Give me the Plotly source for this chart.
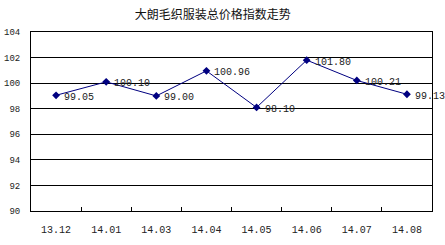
import plotly.graph_objects as go

categories = ["13.12", "14.01", "14.03", "14.04", "14.05", "14.06", "14.07", "14.08"]
values = [99.05, 100.10, 99.00, 100.96, 98.10, 101.80, 100.21, 99.13]
labels = ["99.05", "100.10", "99.00", "100.96", "98.10", "101.80", "100.21", "99.13"]
y_ticks = [90, 92, 94, 96, 98, 100, 102, 104]
title_text = "大朗毛织服装总价格指数走势"

mono = "Liberation Mono, DejaVu Sans Mono, monospace"

fig = go.Figure()
fig.add_trace(go.Scatter(
    x=categories, y=values, mode="lines+markers",
    line=dict(color="#000080", width=1),
    marker=dict(symbol="diamond", size=6, color="#000080"),
    cliponaxis=False,
))

for i, (v, t) in enumerate(zip(values, labels)):
    fig.add_annotation(x=i, y=v, xref="x", yref="y", text=t, showarrow=False,
                       xanchor="left", yanchor="middle", xshift=6, yshift=-2,
                       font=dict(family=mono, size=10, color="#222222"))

fig.update_layout(
    width=445, height=245,
    margin=dict(l=31, r=13, t=32, b=34),
    paper_bgcolor="white", plot_bgcolor="white",
    showlegend=False,
    title=dict(text=title_text, x=0.478, xanchor="center", y=0.94, yanchor="middle",
               font=dict(family="Noto Sans CJK SC", size=12, color="#111111")),
    xaxis=dict(type="category", tickson="boundaries", ticks="inside", ticklen=4,
               tickcolor="black", showgrid=False, showline=True, linecolor="black",
               linewidth=1, mirror=True, tickfont=dict(family=mono, size=10, color="#222222"),
               ticklabelstandoff=9, range=[-0.5, 7.5], automargin=False),
    yaxis=dict(range=[90, 104], tickvals=y_ticks, showgrid=True, gridcolor="black",
               gridwidth=1, showline=True, linecolor="black", linewidth=1, mirror=True,
               ticks="", tickfont=dict(family=mono, size=9, color="#222222"),
               ticklabelstandoff=8, zeroline=False, automargin=False),
)

fig.write_html("out.html")
